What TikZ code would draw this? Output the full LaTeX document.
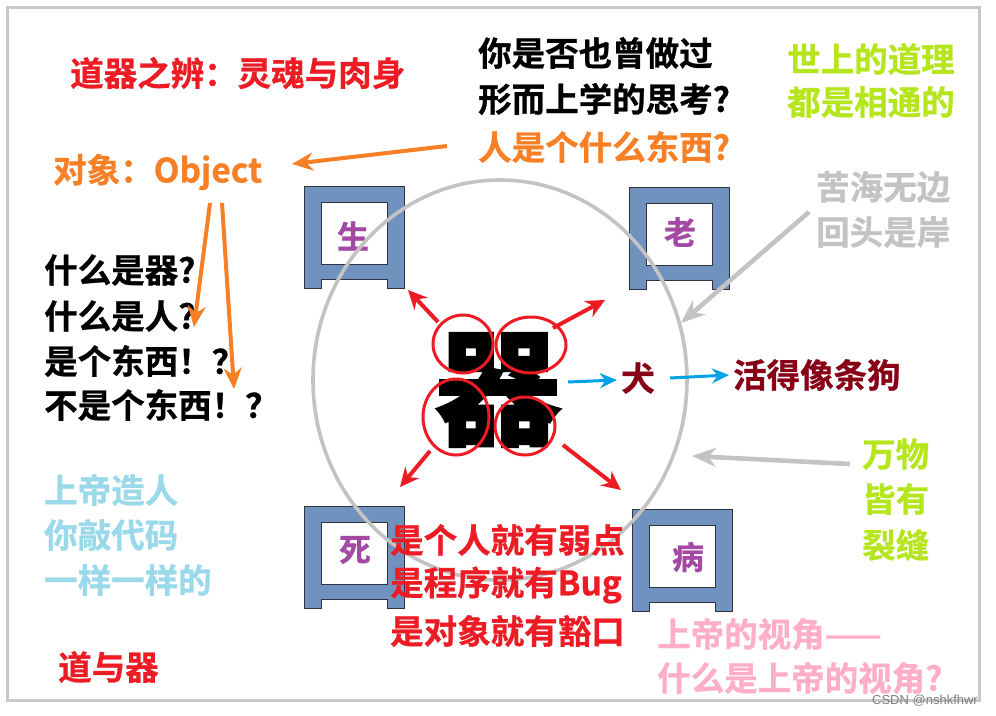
\documentclass[tikz,border=0pt]{standalone}
\usepackage{fontspec}
\setmainfont{Noto Sans CJK SC Bold}[FakeBold=0.8]
\newfontfamily\heavyfont{Noto Sans CJK SC Bold}[FakeBold=3]
\newfontfamily\wmfont{Liberation Sans}
\usetikzlibrary{arrows.meta}
\definecolor{pred}{RGB}{237,28,36}
\definecolor{porange}{RGB}{247,128,38}
\definecolor{pgreen}{RGB}{181,230,29}
\definecolor{pgrey}{RGB}{195,195,195}
\definecolor{pblue}{RGB}{153,217,234}
\definecolor{pdark}{RGB}{136,0,21}
\definecolor{pcyan}{RGB}{0,162,232}
\definecolor{ppink}{RGB}{255,174,201}
\definecolor{ppurple}{RGB}{163,73,164}
\definecolor{boxblue}{RGB}{112,146,190}
\definecolor{boxline}{RGB}{50,50,60}
\definecolor{framegrey}{RGB}{200,200,200}
\newcommand\gatebox[2]{%
  \filldraw[fill=boxblue, draw=boxline, line width=0.8pt]
    (#1,#2) -- ++(100,0) -- ++(0,102) -- ++(-17,0) -- ++(0,-9) -- ++(-66,0) -- ++(0,9) -- ++(-17,0) -- cycle;
  \filldraw[fill=white, draw=boxline, line width=0.8pt] (#1+17,#2+16) rectangle ++(66,62);
}
\tikzset{
  txt/.style={inner sep=0pt, anchor=west, font=\fontsize{33.5}{40}\selectfont},
  letter/.style={inner sep=0pt, text=ppurple, font=\fontsize{32}{36}\selectfont},
  ring/.style={draw=pred, line width=3pt},
  redarrow/.style={draw=pred, line width=4pt, -{Stealth[length=19pt,width=18pt]}},
  bluearrow/.style={draw=pcyan, line width=3pt, -{Stealth[length=17pt,width=15pt]}},
  orangearrow/.style={draw=porange, line width=4pt, -{Stealth[length=21pt,width=18pt]}},
  greyarrow/.style={draw=pgrey, line width=4.6pt, -{Stealth[length=24pt,width=19pt]}},
}
\begin{document}
\begin{tikzpicture}[x=1pt,y=-1pt]
\useasboundingbox (0,0) rectangle (996,715);
\fill[white] (0,0) rectangle (996,715);
\draw[framegrey, line width=3pt] (7,7) rectangle (979,700);

% gate boxes
\gatebox{304}{186}
\gatebox{629}{187}
\gatebox{304}{506}
\gatebox{632}{509}
\node[letter] (sheng) at (353,236) {生};
\node[letter] (lao) at (680,232) {老};
\node[letter] (si) at (355,550) {死};
\node[letter] (bing) at (688,557) {病};

% big circle
\draw[pgrey, line width=3.6pt] (500,380) ellipse [x radius=187, y radius=200];

% central character
\node[inner sep=0pt, font=\heavyfont\fontsize{125}{130}\selectfont] (qi) at (498,390) {器};
\draw[ring] (463,344) ellipse [x radius=30, y radius=29];
\draw[ring] (531,345) ellipse [x radius=35, y radius=28];
\draw[ring] (456,417) ellipse [x radius=33, y radius=38];
\draw[ring] (525,426) ellipse [x radius=30, y radius=29];

% texts
\node[txt, text=pred] (title) at (70,73) {道器之辨：灵魂与肉身};
\node[txt, text=porange] (obj) at (53,172) {对象：Object};
\node[txt, text=black] (q1) at (478,53) {你是否也曾做过};
\node[txt, text=black] (q2) at (478,99) {形而上学的思考?};
\node[txt, text=porange] (q3) at (478,147) {人是个什么东西?};
\node[txt, text=pgreen] (g1) at (787,59) {世上的道理};
\node[txt, text=pgreen] (g2) at (787,102) {都是相通的};
\node[txt, text=pgrey] (s1) at (816,187) {苦海无边};
\node[txt, text=pgrey] (s2) at (816,232) {回头是岸};
\node[txt, text=black] (k1) at (44,270) {什么是器?};
\node[txt, text=black] (k2) at (44,316) {什么是人?};
\node[txt, text=black] (k3) at (44,361) {是个东西！？};
\node[txt, text=black] (k4) at (44,405) {不是个东西！？};
\node[txt, text=pblue] (b1) at (44,490) {上帝造人};
\node[txt, text=pblue] (b2) at (44,535) {你敲代码};
\node[txt, text=pblue] (b3) at (44,580) {一样一样的};
\node[txt, text=pred] (dao) at (58,667) {道与器};
\node[inner sep=0pt, text=pdark, font=\fontsize{33.5}{40}\selectfont] (quan) at (638,378) {犬};
\node[txt, text=pdark] (dog) at (733,375) {活得像条狗};
\node[txt, text=pgreen] (w1) at (862,454) {万物};
\node[txt, text=pgreen] (w2) at (862,499) {皆有};
\node[txt, text=pgreen] (w3) at (862,545) {裂缝};
\node[txt, text=pred] (r1) at (390,540) {是个人就有弱点};
\node[txt, text=pred] (r2) at (390,585) {是程序就有Bug};
\node[txt, text=pred] (r3) at (390,631) {是对象就有豁口};
\node[txt, text=ppink] (p1) at (657,634) {上帝的视角——};
\node[txt, text=ppink] (p2) at (657,678) {什么是上帝的视角?};
\node[inner sep=0pt, text=gray, font=\wmfont\fontsize{13}{15}\selectfont] (wm) at (925,701) {CSDN @nshkfhwr};

% arrow end points
\coordinate (ra1) at (438,322); \coordinate (rb1) at (408,290);
\coordinate (ra2) at (553,328); \coordinate (rb2) at (605,300);
\coordinate (ra3) at (430,451); \coordinate (rb3) at (400,487);
\coordinate (ra4) at (563,445); \coordinate (rb4) at (621,490);
\coordinate (ba1) at (568,382); \coordinate (bb1) at (617,380);
\coordinate (ba2) at (670,378); \coordinate (bb2) at (729,375);
\coordinate (oa1) at (447,146); \coordinate (ob1) at (292,164);
\coordinate (oa2) at (210,203); \coordinate (ob2) at (194,327);
\coordinate (oa3) at (222,203); \coordinate (ob3) at (234,389);
\coordinate (ga1) at (809,212); \coordinate (gb1) at (681,323);
\coordinate (ga2) at (850,464); \coordinate (gb2) at (692,456);

\draw[redarrow] (ra1) -- (rb1);
\draw[redarrow] (ra2) -- (rb2);
\draw[redarrow] (ra3) -- (rb3);
\draw[redarrow] (ra4) -- (rb4);
\draw[bluearrow] (ba1) -- (bb1);
\draw[bluearrow] (ba2) -- (bb2);
\draw[orangearrow] (oa1) -- (ob1);
\draw[orangearrow] (oa2) -- (ob2);
\draw[orangearrow] (oa3) -- (ob3);
\draw[greyarrow] (ga1) -- (gb1);
\draw[greyarrow] (ga2) -- (gb2);
\end{tikzpicture}
\end{document}
